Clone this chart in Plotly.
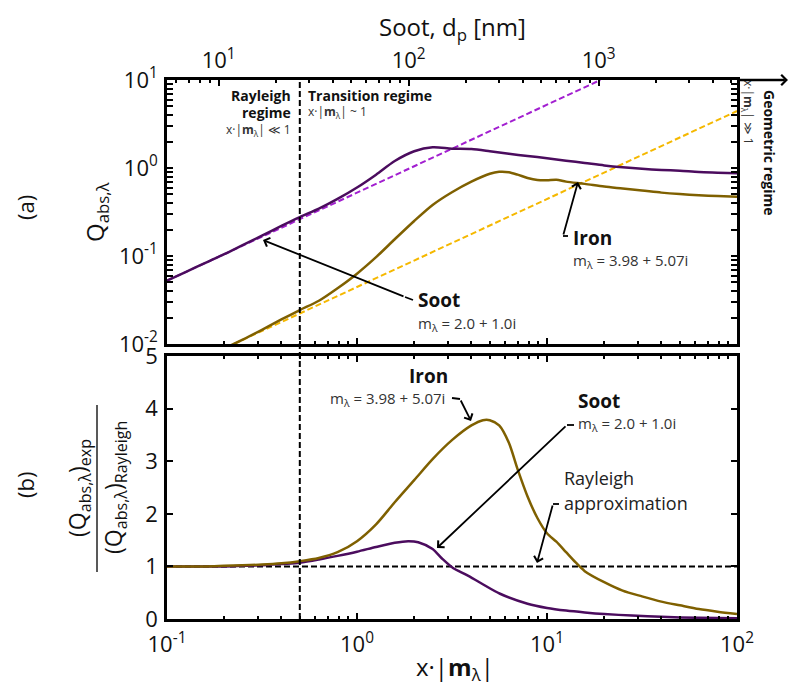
import math
import plotly.graph_objects as go

# ---------------- data ----------------
# Panel (a): absorption efficiency Q_abs vs x*|m|
soot_xm = [0.1, 0.126, 0.158, 0.2, 0.25, 0.316, 0.4, 0.5, 0.63, 0.79, 1.0, 1.26, 1.58, 2.0, 2.5,
           3.16, 4.0, 5.0, 6.3, 7.9, 10, 12.6, 15.8, 20, 25, 31.6, 40, 50, 63, 79, 100]
soot_q = [0.0525, 0.066, 0.083, 0.105, 0.133, 0.170, 0.220, 0.277, 0.345, 0.445, 0.60, 0.84, 1.20,
          1.55, 1.72, 1.66, 1.64, 1.55, 1.45, 1.37, 1.29, 1.21, 1.14, 1.07, 1.02, 0.98, 0.95,
          0.93, 0.90, 0.885, 0.87]
iron_xm = [0.2, 0.25, 0.316, 0.4, 0.5, 0.63, 0.79, 1.0, 1.26, 1.58, 2.0, 2.5, 3.16, 4.0, 5.0,
           5.6, 6.3, 7.0, 7.9, 8.9, 10, 11.2, 12.6, 15.8, 20, 25, 31.6, 40, 50, 63, 79, 100]
iron_q = [0.0089, 0.0112, 0.0145, 0.019, 0.0243, 0.031, 0.043, 0.063, 0.097, 0.155, 0.25, 0.38,
          0.53, 0.70, 0.86, 0.905, 0.895, 0.84, 0.77, 0.73, 0.725, 0.735, 0.70, 0.66, 0.615,
          0.585, 0.555, 0.525, 0.505, 0.49, 0.48, 0.47]
soot_rayleigh_xm = [0.1, 19.1]
soot_rayleigh_q = [0.0524, 10.0]
iron_rayleigh_xm = [0.225, 100]
iron_rayleigh_q = [0.01, 4.44]

# Panel (b): ratio experiment / Rayleigh
soot_ratio_xm = [0.1, 0.2, 0.25, 0.316, 0.4, 0.5, 0.63, 0.79, 1.0, 1.26, 1.58, 1.86, 2.1, 2.5,
                 2.8, 3.2, 3.77, 4.5, 5.66, 7.9, 10, 12.6, 15.8, 20, 28, 40, 63, 100]
soot_ratio = [1.0, 1.0, 1.01, 1.02, 1.045, 1.07, 1.13, 1.20, 1.28, 1.37, 1.45, 1.48, 1.46, 1.33,
              1.15, 0.97, 0.84, 0.68, 0.48, 0.29, 0.21, 0.16, 0.125, 0.095, 0.065, 0.042, 0.022,
              0.012]
iron_ratio_xm = [0.1, 0.158, 0.2, 0.25, 0.316, 0.4, 0.5, 0.63, 0.79, 1.0, 1.26, 1.58, 2.0, 2.5,
                 3.16, 4.0, 4.6, 5.0, 5.6, 6.3, 7.0, 7.9, 8.9, 10, 11.2, 12.6, 14.1, 15.8, 20, 25,
                 31.6, 40, 50, 63, 79, 100]
iron_ratio = [1.0, 1.0, 1.01, 1.02, 1.035, 1.06, 1.10, 1.16, 1.27, 1.48, 1.80, 2.22, 2.64, 3.04,
              3.40, 3.68, 3.78, 3.78, 3.68, 3.35, 2.85, 2.33, 1.92, 1.63, 1.47, 1.27, 1.08, 0.91,
              0.70, 0.54, 0.43, 0.33, 0.26, 0.19, 0.14, 0.095]
rayleigh_ratio_xm = [0.1, 100]
rayleigh_ratio = [1.0, 1.0]

regime_boundary_xm = 0.5
DP_PER_XM = 53.5  # soot diameter [nm] per unit of x*|m|

x_tickvals = [0.1, 1, 10, 100]
x_ticktext = ["10<sup>-1</sup>", "10<sup>0</sup>", "10<sup>1</sup>", "10<sup>2</sup>"]
q_tickvals = [0.01, 0.1, 1, 10]
q_ticktext = ["10<sup>-2</sup>", "10<sup>-1</sup>", "10<sup>0</sup>", "10<sup>1</sup>"]
ratio_tickvals = [0, 1, 2, 3, 4, 5]
dp_tickvals = [10, 100, 1000]
dp_ticktext = ["10<sup>1</sup>", "10<sup>2</sup>", "10<sup>3</sup>"]

# ---------------- styling ----------------
FONT = "Open Sans, DejaVu Sans, sans-serif"
SOOT_C = "#4b0c5e"
IRON_C = "#7f6000"
SOOT_DASH_C = "#a21fd0"
IRON_DASH_C = "#f5b800"

W, H = 790, 686
PL, PR, PT, PB = 167, 737, 80, 619


def px(xp):
    return (xp - PL) / (PR - PL)


def py(yp):
    return (PB - yp) / (PB - PT)


def minor_log(lo, hi):
    vals = []
    for e in range(lo, hi):
        for k in range(2, 10):
            vals.append(k * 10 ** e)
    return vals


SPL = dict(shape="spline", smoothing=0.8)

fig = go.Figure()

# panel (a)
fig.add_trace(go.Scatter(x=soot_rayleigh_xm, y=soot_rayleigh_q, mode="lines", xaxis="x", yaxis="y",
                         line=dict(color=SOOT_DASH_C, width=2, dash="6px,3px"), hoverinfo="skip"))
fig.add_trace(go.Scatter(x=iron_rayleigh_xm, y=iron_rayleigh_q, mode="lines", xaxis="x", yaxis="y",
                         line=dict(color=IRON_DASH_C, width=2, dash="6px,3px"), hoverinfo="skip"))
fig.add_trace(go.Scatter(x=soot_xm, y=soot_q, mode="lines", xaxis="x", yaxis="y",
                         line=dict(color=SOOT_C, width=2.5, **SPL)))
fig.add_trace(go.Scatter(x=iron_xm, y=iron_q, mode="lines", xaxis="x", yaxis="y",
                         line=dict(color=IRON_C, width=2.5, **SPL)))
# invisible trace to carry the d_p axis
fig.add_trace(go.Scatter(x=[0.1 * DP_PER_XM, 100 * DP_PER_XM], y=[1, 1], mode="lines",
                         xaxis="x3", yaxis="y", opacity=0, line=dict(width=0), hoverinfo="skip"))

# panel (b)
fig.add_trace(go.Scatter(x=rayleigh_ratio_xm, y=rayleigh_ratio, mode="lines", xaxis="x2", yaxis="y2",
                         line=dict(color="black", width=2, dash="6px,3px"), hoverinfo="skip"))
fig.add_trace(go.Scatter(x=soot_ratio_xm, y=soot_ratio, mode="lines", xaxis="x2", yaxis="y2",
                         line=dict(color=SOOT_C, width=2.5, **SPL)))
fig.add_trace(go.Scatter(x=iron_ratio_xm, y=iron_ratio, mode="lines", xaxis="x2", yaxis="y2",
                         line=dict(color=IRON_C, width=2.5, **SPL)))

axis_common = dict(showline=True, linewidth=2.5, linecolor="black", ticks="inside",
                   tickwidth=2, ticklen=6, tickcolor="black", showgrid=False, zeroline=False,
                   tickfont=dict(family=FONT, size=22, color="#111"))
log_minor = dict(ticks="inside", ticklen=3, tickwidth=1.5, tickcolor="black", showgrid=False,
                 tickmode="array")

top_dom = [py(344), 1.0]
bot_dom = [0.0, py(356)]

fig.update_layout(
    width=W, height=H,
    margin=dict(l=PL, r=W - PR, t=PT, b=H - PB, pad=0),
    paper_bgcolor="white", plot_bgcolor="white",
    showlegend=False,
    font=dict(family=FONT, color="#111"),
    xaxis=dict(axis_common, type="log", range=[-1, 2], domain=[0, 1], anchor="y",
               tickmode="array", tickvals=x_tickvals, showticklabels=False, mirror=False,
               minor=dict(log_minor, tickvals=minor_log(-1, 2))),
    yaxis=dict(axis_common, type="log", range=[-2, 1], domain=top_dom, anchor="x",
               tickmode="array", tickvals=q_tickvals, ticktext=q_ticktext, mirror="allticks",
               ticklabelstandoff=2,
               minor=dict(log_minor, tickvals=minor_log(-2, 1))),
    xaxis3=dict(axis_common, type="log",
                range=[math.log10(0.1 * DP_PER_XM), math.log10(100 * DP_PER_XM)],
                overlaying="x", anchor="y", side="top",
                tickmode="array", tickvals=dp_tickvals, ticktext=dp_ticktext,
                ticklabelstandoff=0,
                minor=dict(log_minor, tickvals=[v for v in minor_log(0, 4)
                                                 if 0.1 * DP_PER_XM <= v <= 100 * DP_PER_XM])),
    xaxis2=dict(axis_common, type="log", range=[-1, 2], domain=[0, 1], anchor="y2",
                tickmode="array", tickvals=x_tickvals, ticktext=x_ticktext, mirror="allticks",
                ticklabelstandoff=4,
                minor=dict(log_minor, tickvals=minor_log(-1, 2))),
    yaxis2=dict(axis_common, range=[0, 5], domain=bot_dom, anchor="x2",
                tickmode="array", tickvals=ratio_tickvals, mirror="allticks",
                ticklabelstandoff=2),
)

shapes = []
# regime boundary through both panels
shapes.append(dict(type="line", xref="x2", yref="paper", x0=regime_boundary_xm, x1=regime_boundary_xm,
                   y0=0, y1=1, line=dict(color="black", width=2, dash="6px,3px"), layer="above"))
# fraction bar of panel (b) y title
shapes.append(dict(type="line", xref="paper", yref="paper", x0=px(97), x1=px(97), y0=py(405), y1=py(572),
                   line=dict(color="#222", width=1.5)))
# small hooks at arrow tails
for (x0, y0, x1, y1) in [(563, 236, 568, 236), (452, 398, 460, 399), (567, 425, 574, 425),
                         (553, 504, 559, 504), (405, 297, 413, 300)]:
    shapes.append(dict(type="line", xref="paper", yref="paper", x0=px(x0), x1=px(x1),
                       y0=py(y0), y1=py(y1), line=dict(color="black", width=1.8)))
fig.update_layout(shapes=shapes)

ann = []


def text(t, x, y, size, xanchor="center", yanchor="middle", angle=0, color="#111", align="center"):
    ann.append(dict(text=t, x=px(x), y=py(y), xref="paper", yref="paper", showarrow=False,
                    xanchor=xanchor, yanchor=yanchor, textangle=angle, align=align,
                    font=dict(family=FONT, size=size, color=color)))


def arrow(hx, hy, tx, ty, width=1.8, head=4, size=1.0, color="black"):
    ann.append(dict(text="", x=px(hx), y=py(hy), xref="paper", yref="paper", showarrow=True,
                    ax=tx - hx, ay=ty - hy, axref="pixel", ayref="pixel", arrowhead=head,
                    arrowsize=size, arrowwidth=width, arrowcolor=color, standoff=0, startstandoff=0))


# titles
text("Soot, d<sub>p</sub> [nm]", 452, 28, 24)
text("x·|<b>m</b><sub>λ</sub>|", 455, 668, 24)
text("(a)", 25, 208, 22, angle=-90)
text("(b)", 25, 485, 22, angle=-90)
text("Q<sub>abs,λ</sub>", 96, 212, 24, angle=-90)
text("(Q<sub>abs,λ</sub>)<sub>exp</sub>", 78, 488, 23, angle=-90)
text("(Q<sub>abs,λ</sub>)<sub>Rayleigh</sub>", 114, 488, 23, angle=-90)

# regimes
text("<b>Rayleigh</b>", 293, 95, 14, xanchor="right")
text("<b>regime</b>", 293, 112, 14, xanchor="right")
text("x·|<b>m</b><sub>λ</sub>| ≪ 1", 293, 130, 12, xanchor="right", color="#333")
text("<b>Transition regime</b>", 306, 95, 14, xanchor="left")
text("x·|<b>m</b><sub>λ</sub>| ~ 1", 306, 112, 12, xanchor="left", color="#333")
text("<b>Geometric regime</b>", 770, 152, 14, angle=90)
text("x·|<b>m</b><sub>λ</sub>| ≫ 1", 748, 112, 12, angle=90, color="#333")

# panel (a) labels
text("<b>Soot</b>", 416, 300, 19, xanchor="left")
text("m<sub>λ</sub> = 2.0 + 1.0i", 416, 324, 15, xanchor="left", color="#333")
text("<b>Iron</b>", 571, 238, 19, xanchor="left")
text("m<sub>λ</sub> = 3.98 + 5.07i", 571, 261, 15, xanchor="left", color="#333")
arrow(263, 240, 405, 297)
arrow(578, 182, 563, 236)

# panel (b) labels
text("<b>Iron</b>", 428, 376, 19)
text("m<sub>λ</sub> = 3.98 + 5.07i", 447, 399, 15, xanchor="right", color="#333")
text("<b>Soot</b>", 576, 401, 19, xanchor="left")
text("m<sub>λ</sub> = 2.0 + 1.0i", 576, 424, 15, xanchor="left", color="#333")
text("Rayleigh", 562, 478, 18, xanchor="left", color="#222")
text("approximation", 562, 503, 18, xanchor="left", color="#222")
arrow(471, 421, 460, 399)
arrow(437, 548, 567, 425)
arrow(537, 563, 553, 504)

# top axis arrow
arrow(788, 80, 737, 80, width=2.5, head=4, size=0.8)

fig.update_layout(annotations=ann)
fig.write_html("out.html", config={"displayModeBar": False},
               post_script="document.body.style.margin='0px';")
